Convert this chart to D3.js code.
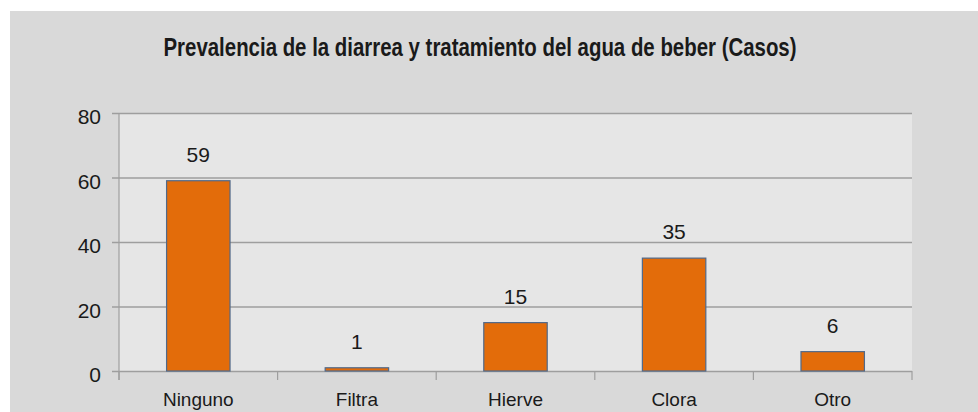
<!DOCTYPE html>
<html>
<head>
<meta charset="utf-8">
<script src="https://cdn.jsdelivr.net/npm/d3@7"></script>
<style>
  body { margin: 0; background: #ffffff; }
  svg { display: block; }
  text { font-family: "Liberation Sans", Arial, sans-serif; fill: #1a1a1a; }
</style>
</head>
<body>
<svg id="chart" width="978" height="412"></svg>
<script>
// data
var categories = ["Ninguno", "Filtra", "Hierve", "Clora", "Otro"];
var casos = [59, 1, 15, 35, 6];
var yTicks = [0, 20, 40, 60, 80];
var titleText = "Prevalencia de la diarrea y tratamiento del agua de beber (Casos)";

var svg = d3.select("#chart"),
    margin = { top: 113, right: 66, bottom: 41, left: 119 },
    width = +svg.attr("width") - margin.left - margin.right,
    height = +svg.attr("height") - margin.top - margin.bottom;

// outer chart area
svg.append("rect")
    .attr("x", 10).attr("y", 11)
    .attr("width", 968).attr("height", 401)
    .attr("fill", "#d9d9d9");

svg.append("text")
    .attr("x", 480).attr("y", 56)
    .attr("text-anchor", "middle")
    .attr("textLength", 633)
    .attr("lengthAdjust", "spacingAndGlyphs")
    .style("font-family", "'Liberation Sans Narrow', 'Liberation Sans', sans-serif")
    .style("font-weight", "bold")
    .style("font-size", "25px")
    .text(titleText);

var g = svg.append("g").attr("transform", "translate(" + margin.left + "," + margin.top + ")");

var x = d3.scaleBand()
    .domain(categories)
    .range([0, width])
    .paddingInner(0.6)
    .paddingOuter(0.3);

var y = d3.scaleLinear().domain([0, 80]).range([height, 0]);

// plot background
g.append("rect")
    .attr("width", width).attr("height", height)
    .attr("fill", "#e6e6e6");

// gridlines + y axis
var yAxis = g.append("g")
    .call(d3.axisLeft(y).tickValues(yTicks).tickSize(-width - 7).tickPadding(11).tickSizeOuter(0))
    .attr("transform", "translate(-7,0)");
yAxis.select(".domain").remove();
yAxis.selectAll(".tick line")
    .attr("stroke", "#9e9e9e")
    .attr("stroke-width", 1.5);
yAxis.selectAll(".tick text")
    .attr("dy", "0.5em")
    .style("font-size", "21px")
    .attr("fill", "#1a1a1a");

// left axis line
g.append("line")
    .attr("x1", 0).attr("x2", 0)
    .attr("y1", 0).attr("y2", height + 9)
    .attr("stroke", "#9e9e9e").attr("stroke-width", 1.2);

// category boundary ticks
var bounds = categories.map(function (c) { return x(c) - x.step() * x.paddingOuter(); });
bounds.push(width);
g.selectAll(".xtick")
    .data(bounds)
    .enter().append("line")
    .attr("x1", function (d) { return d; })
    .attr("x2", function (d) { return d; })
    .attr("y1", height).attr("y2", height + 9)
    .attr("stroke", "#9e9e9e").attr("stroke-width", 1.2);

// bars
g.selectAll(".bar")
    .data(casos)
    .enter().append("rect")
    .attr("x", function (d, i) { return x(categories[i]); })
    .attr("y", function (d) { return y(d); })
    .attr("width", x.bandwidth())
    .attr("height", function (d) { return height - y(d); })
    .attr("fill", "#e36c0a")
    .attr("stroke", "#50698a")
    .attr("stroke-width", 1.2);

// value labels
g.selectAll(".val")
    .data(casos)
    .enter().append("text")
    .attr("x", function (d, i) { return x(categories[i]) + x.bandwidth() / 2; })
    .attr("y", function (d) { return y(d) - 19; })
    .attr("text-anchor", "middle")
    .style("font-size", "21px")
    .text(function (d) { return d; });

// category labels (kept just inside the bottom edge)
g.selectAll(".cat")
    .data(categories)
    .enter().append("text")
    .attr("x", function (d) { return x(d) + x.bandwidth() / 2; })
    .attr("y", height + 35)
    .attr("text-anchor", "middle")
    .style("font-size", "19px")
    .text(function (d) { return d; });
</script>
</body>
</html>
